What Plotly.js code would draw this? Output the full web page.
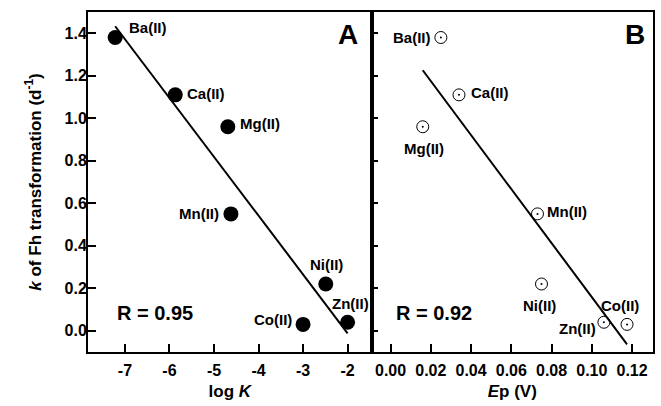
<!DOCTYPE html>
<html>
<head>
<meta charset="utf-8">
<script src="https://cdn.plot.ly/plotly-3.0.1.min.js"></script>
<style>html,body{margin:0;padding:0;background:#fff;}#chart{width:661px;height:406px;}</style>
</head>
<body>
<div id="chart"></div>
<script>
// ---- data ----
const ions = ["Ba(II)", "Ca(II)", "Mg(II)", "Mn(II)", "Ni(II)", "Co(II)", "Zn(II)"];
const logK = [-7.22, -5.87, -4.69, -4.62, -2.49, -3.0, -2.0];
const Ep = [0.025, 0.034, 0.016, 0.073, 0.075, 0.1175, 0.106];
const kFh = [1.38, 1.11, 0.96, 0.55, 0.22, 0.03, 0.04];
const fitA_x = [-7.22, -2.0];
const fitA_y = [1.433, -0.012];
const fitB_x = [0.016, 0.1175];
const fitB_y = [1.226, -0.064];
const rA = "R = 0.95";
const rB = "R = 0.92";
const xTicksA = [-7, -6, -5, -4, -3, -2];
const xTickTextA = ["-7", "-6", "-5", "-4", "-3", "-2"];
const xTicksB = [0, 0.02, 0.04, 0.06, 0.08, 0.10, 0.12];
const xTickTextB = ["0.00", "0.02", "0.04", "0.06", "0.08", "0.10", "0.12"];
const yTicks = [0, 0.2, 0.4, 0.6, 0.8, 1.0, 1.2, 1.4];
const yTickText = ["0.0", "0.2", "0.4", "0.6", "0.8", "1.0", "1.2", "1.4"];

// ---- label placement (styles) ----
const offA = [[12, 10, "left"], [10, 1, "left"], [10, 3, "left"], [-10, 0, "right"], [1, 20, "center"], [-9, 5, "right"], [3, 19, "center"]];
const offB = [[-8, 0, "right"], [10, 2, "left"], [1, -22, "center"], [8, 2, "left"], [-2, -21, "center"], [-7, 19, "center"], [-6, -6, "right"]];

const FONT = "Liberation Sans, Arial, sans-serif";
const fnt = (s) => ({family: FONT, size: s, color: "#000"});
const bold = (arr) => arr.map(t => "<b>" + t + "</b>");

const traces = [
  {x: fitA_x, y: fitA_y, mode: "lines", line: {color: "#000", width: 2}, xaxis: "x", yaxis: "y", hoverinfo: "skip"},
  {x: logK, y: kFh, mode: "markers", marker: {color: "#000", size: 15, line: {width: 0}}, xaxis: "x", yaxis: "y"},
  {x: fitB_x, y: fitB_y, mode: "lines", line: {color: "#000", width: 2}, xaxis: "x2", yaxis: "y2", hoverinfo: "skip"},
  {x: Ep, y: kFh, mode: "markers", marker: {symbol: "circle-open", color: "#000", size: 12, line: {width: 1, color: "#000"}}, xaxis: "x2", yaxis: "y2"},
  {x: Ep, y: kFh, mode: "markers", marker: {color: "#000", size: 2}, xaxis: "x2", yaxis: "y2"}
];

const annotations = [];
ions.forEach((name, i) => {
  annotations.push({x: logK[i], y: kFh[i], xref: "x", yref: "y", text: "<b>" + name + "</b>", showarrow: false,
    xanchor: offA[i][2], yanchor: "middle", xshift: offA[i][0], yshift: offA[i][1], font: fnt(15)});
  annotations.push({x: Ep[i], y: kFh[i], xref: "x2", yref: "y2", text: "<b>" + name + "</b>", showarrow: false,
    xanchor: offB[i][2], yanchor: "middle", xshift: offB[i][0], yshift: offB[i][1], font: fnt(15)});
});
annotations.push({xref: "x domain", yref: "y domain", x: 0.095, y: 0.115, text: "<b>" + rA + "</b>", showarrow: false, xanchor: "left", yanchor: "middle", font: fnt(20)});
annotations.push({xref: "x2 domain", yref: "y2 domain", x: 0.08, y: 0.115, text: "<b>" + rB + "</b>", showarrow: false, xanchor: "left", yanchor: "middle", font: fnt(20)});
annotations.push({xref: "x domain", yref: "y domain", x: 0.915, y: 0.935, text: "<b>A</b>", showarrow: false, xanchor: "center", yanchor: "middle", font: fnt(28)});
annotations.push({xref: "x2 domain", yref: "y2 domain", x: 0.935, y: 0.935, text: "<b>B</b>", showarrow: false, xanchor: "center", yanchor: "middle", font: fnt(28)});

const axBase = {showline: true, linecolor: "#000", linewidth: 2, mirror: true, zeroline: false, showgrid: false,
  ticks: "inside", ticklen: 8, tickwidth: 2, tickcolor: "#000", tickfont: fnt(16), tickmode: "array"};

const layout = {
  width: 661, height: 406,
  margin: {l: 88, r: 8, t: 12, b: 54},
  paper_bgcolor: "#fff", plot_bgcolor: "#fff",
  showlegend: false,
  font: {family: FONT, color: "#000"},
  xaxis: Object.assign({}, axBase, {domain: [0, 0.502], range: [-7.83, -1.46], tickvals: xTicksA, ticktext: bold(xTickTextA),
    ticklabelstandoff: 3,
    title: {text: "<b>log <i>K</i></b>", font: fnt(17), standoff: 7}}),
  yaxis: Object.assign({}, axBase, {range: [-0.1, 1.5], tickvals: yTicks, ticktext: bold(yTickText), ticklabelstandoff: -4,
    title: {text: "<b><i>k</i> of Fh transformation (d<sup>-1</sup>)</b>", font: fnt(17), standoff: 19}}),
  xaxis2: Object.assign({}, axBase, {domain: [0.502, 1], anchor: "y2", range: [-0.0094, 0.1304],
    tickvals: xTicksB, ticktext: bold(xTickTextB), ticklabelstandoff: 3,
    title: {text: "<b><i>E</i>p (V)</b>", font: fnt(17), standoff: 7}}),
  yaxis2: Object.assign({}, axBase, {anchor: "x2", range: [-0.1, 1.5], tickvals: yTicks, showticklabels: false, ticklen: 6}),
  annotations: annotations
};

Plotly.newPlot("chart", traces, layout, {displayModeBar: false, staticPlot: true});
</script>
</body>
</html>
